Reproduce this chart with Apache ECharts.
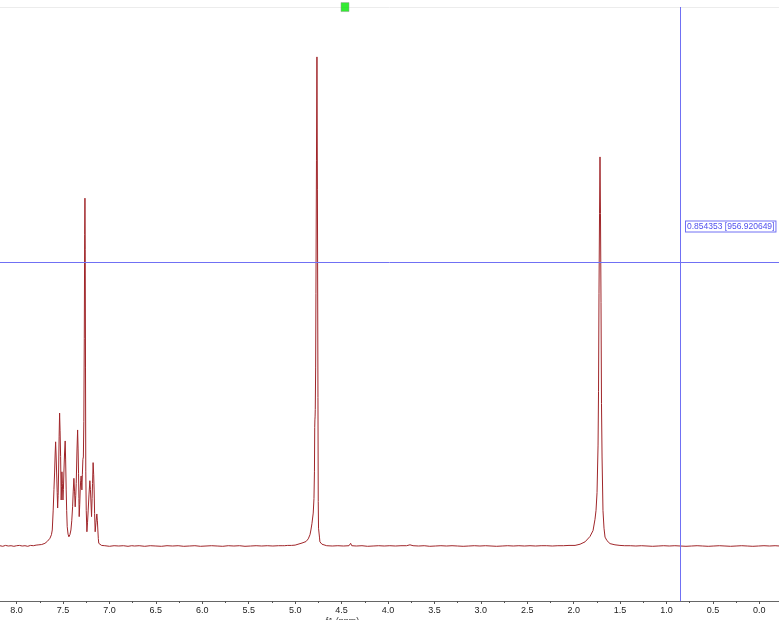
<!DOCTYPE html>
<html>
<head>
<meta charset="utf-8">
<script src="https://cdn.jsdelivr.net/npm/echarts@6/dist/echarts.min.js"></script>
<style>html,body{margin:0;padding:0;background:#fff}#c{width:779px;height:620px}</style>
</head>
<body>
<div id="c"></div>
<script>
// ---- data: [ppm, intensity] ----
const baselineLeft = [[8.18,1],[8.15,-1],[8.12,2],[8.09,0],[8.06,1],[8.03,-1],[8.00,1],[7.97,2],[7.94,0],[7.91,1],[7.88,-1],[7.85,2],[7.82,1],[7.79,3],[7.76,4],[7.73,5],[7.71,6]];
const aromatic = [[7.695,9],[7.668,16],[7.641,26],[7.625,38],[7.616,54],[7.606,121],[7.598,190],[7.591,246],[7.585,310],[7.580,351],[7.575,310],[7.569,246],[7.563,180],[7.558,128],[7.553,170],[7.548,246],[7.542,370],[7.537,448],[7.532,390],[7.526,301],[7.520,155],[7.516,200],[7.512,250],[7.507,210],[7.501,155],[7.496,190],[7.491,246],[7.484,310],[7.477,354],[7.472,290],[7.466,189],[7.461,120],[7.455,65],[7.446,40],[7.437,31],[7.426,38],[7.415,54],[7.406,85],[7.397,132],[7.390,185],[7.383,228],[7.376,185],[7.369,132],[7.363,170],[7.358,211],[7.350,320],[7.343,391],[7.338,330],[7.333,245],[7.329,160],[7.326,99],[7.320,140],[7.315,189],[7.310,220],[7.305,236],[7.301,215],[7.297,189],[7.292,240],[7.286,292],[7.281,300],[7.276,420],[7.271,700],[7.267,1050],[7.264,1172],[7.261,1000],[7.258,600],[7.255,250],[7.250,120],[7.243,48],[7.236,80],[7.229,121],[7.220,175],[7.211,220],[7.205,190],[7.200,155],[7.193,99],[7.187,160],[7.182,211],[7.176,281],[7.170,240],[7.165,189],[7.160,110],[7.154,48],[7.145,80],[7.136,108],[7.130,85],[7.125,54],[7.120,25],[7.115,9],[7.100,4],[7.085,2]];
const baselineMid1 = [[7.05,1],[7.00,-1],[6.95,1],[6.90,0],[6.85,1],[6.80,-1],[6.76,1],[6.745,7],[6.73,0],[6.68,1],[6.62,-1],[6.56,1],[6.50,0],[6.44,-1],[6.38,1],[6.32,0],[6.26,1],[6.20,-1],[6.14,0],[6.08,1],[6.02,-1],[5.96,0],[5.90,1],[5.84,0],[5.78,-1],[5.72,1],[5.66,0],[5.60,1],[5.54,-1],[5.48,0],[5.42,1],[5.36,0],[5.30,1],[5.24,0],[5.18,1],[5.14,1],[5.128,5],[5.115,1],[5.08,2],[5.04,2],[5.00,3]];
const peakWater = [[4.980,4],[4.926,10],[4.883,15],[4.859,24],[4.840,38],[4.830,54],[4.819,75],[4.805,111],[4.797,160],[4.792,250],[4.789,400],[4.787,425],[4.785,435],[4.783,460],[4.779,600],[4.776,850],[4.770,1300],[4.765,1648],[4.760,1200],[4.754,500],[4.751,150],[4.748,60],[4.738,30],[4.733,14],[4.711,6],[4.690,2]];
const baselineMid2 = [[4.66,1],[4.60,0],[4.54,1],[4.48,0],[4.42,1],[4.402,9],[4.39,1],[4.34,0],[4.28,1],[4.22,-1],[4.16,0],[4.10,1],[4.04,0],[3.98,1],[3.92,0],[3.86,1],[3.80,1],[3.763,4],[3.73,1],[3.67,0],[3.61,1],[3.55,-1],[3.49,0],[3.43,1],[3.37,0],[3.31,1],[3.25,0],[3.19,-1],[3.13,0],[3.07,1],[3.01,0],[2.95,1],[2.89,0],[2.83,-1],[2.77,0],[2.71,1],[2.65,0],[2.59,1],[2.53,0],[2.47,1],[2.41,0],[2.35,1],[2.29,1],[2.23,0],[2.17,1],[2.11,1],[2.05,2]];
const peakAliph = [[1.985,2],[1.931,6],[1.877,14],[1.824,32],[1.791,52],[1.770,90],[1.759,120],[1.748,180],[1.737,340],[1.732,520],[1.727,850],[1.721,1120],[1.716,1311],[1.711,1120],[1.705,820],[1.700,480],[1.694,300],[1.684,120],[1.673,60],[1.662,30],[1.641,18],[1.608,8],[1.555,4],[1.501,2]];
const baselineRight = [[1.45,1],[1.39,1],[1.33,0],[1.27,1],[1.21,0],[1.15,-1],[1.09,0],[1.03,1],[0.97,0],[0.91,1],[0.85,0],[0.79,-1],[0.73,0],[0.67,1],[0.61,0],[0.55,-1],[0.49,0],[0.43,1],[0.37,0],[0.31,-1],[0.25,0],[0.19,1],[0.13,0],[0.07,-1],[0.01,0],[-0.05,1],[-0.11,0],[-0.17,1],[-0.22,0]];

const majorTicks = [8.0,7.5,7.0,6.5,6.0,5.5,5.0,4.5,4.0,3.5,3.0,2.5,2.0,1.5,1.0,0.5,0.0];
const minorTicks = [7.75,7.25,6.75,6.25,5.75,5.25,4.75,4.25,3.75,3.25,2.75,2.25,1.75,1.25,0.75,0.25];
const cursorPpm = 0.854353;
const cursorValue = 956.920649;
const cursorLabel = '0.854353 [956.920649]';
const markerPos = [[4.463, 1816]];
const axisName = 'f1 (ppm)';

const spectrum = [].concat(baselineLeft, aromatic, baselineMid1, peakWater, baselineMid2, peakAliph, baselineRight)
  .sort((a, b) => b[0] - a[0]);

const X_MIN = -0.212, X_MAX = 8.179;
const chart = echarts.init(document.getElementById('c'), null, {renderer: 'canvas'});
const font = 'Liberation Sans, Arial, Helvetica, sans-serif';
const cursorColor = '#7070f4';

chart.setOption({
  animation: false,
  backgroundColor: '#ffffff',
  grid: {left: 0, right: 0, top: 7, bottom: 19, containLabel: false, outerBoundsMode: 'none'},
  xAxis: [
    {
      type: 'value', position: 'bottom', inverse: true, min: X_MIN, max: X_MAX,
      splitLine: {show: false},
      axisLine: {show: true, onZero: false, lineStyle: {color: '#666', width: 1}},
      axisTick: {show: true, inside: false, length: 3, customValues: majorTicks, lineStyle: {color: '#555'}},
      axisLabel: {show: true, customValues: majorTicks, margin: 5, fontSize: 9, color: '#222', fontFamily: font,
        formatter: v => Number(v).toFixed(1)},
      name: axisName, nameLocation: 'middle', nameGap: 16, nameMoveOverlap: false,
      nameTextStyle: {fontSize: 9, color: '#333', fontFamily: font, verticalAlign: 'top', padding: [0, 94, 0, 0]}
    },
    {
      type: 'value', position: 'bottom', inverse: true, min: X_MIN, max: X_MAX,
      splitLine: {show: false},
      axisLine: {show: false, onZero: false},
      axisTick: {show: true, inside: false, length: 2, customValues: minorTicks, lineStyle: {color: '#555'}},
      axisLabel: {show: false}
    },
    {
      type: 'value', position: 'top', inverse: true, min: X_MIN, max: X_MAX,
      splitLine: {show: false},
      axisLine: {show: true, onZero: false, lineStyle: {color: '#ececec', width: 1}},
      axisTick: {show: false}, axisLabel: {show: false}
    }
  ],
  yAxis: {type: 'value', min: -185.3, max: 1816.2, show: false, splitLine: {show: false}},
  series: [
    {
      type: 'line', xAxisIndex: 0, data: spectrum, showSymbol: false, symbol: 'none',
      sampling: null, smooth: false,
      lineStyle: {color: '#a0262a', width: 1},
      markLine: {
        silent: true, symbol: ['none', 'none'], animation: false,
        label: {show: false},
        lineStyle: {color: cursorColor, width: 1, type: 'solid'},
        data: [{xAxis: cursorPpm}, {yAxis: cursorValue}]
      },
      markPoint: {
        silent: true, symbol: 'circle', symbolSize: 0, animation: false,
        data: [{coord: [cursorPpm, cursorValue]}],
        label: {
          show: true, position: 'right', distance: 6, offset: [0, -35.5],
          formatter: cursorLabel, fontSize: 8.5, fontFamily: font, color: '#5050ee',
          backgroundColor: '#ffffff', borderColor: cursorColor, borderWidth: 1,
          padding: [1, 1, 0, 1]
        }
      },
      z: 2
    },
    {
      type: 'scatter', xAxisIndex: 0, data: markerPos, symbol: 'rect', symbolSize: [8, 9],
      clip: false, silent: true,
      itemStyle: {color: '#00e600', borderColor: '#9a9a9a', borderWidth: 0.6}, z: 5
    }
  ]
});
</script>
</body>
</html>
